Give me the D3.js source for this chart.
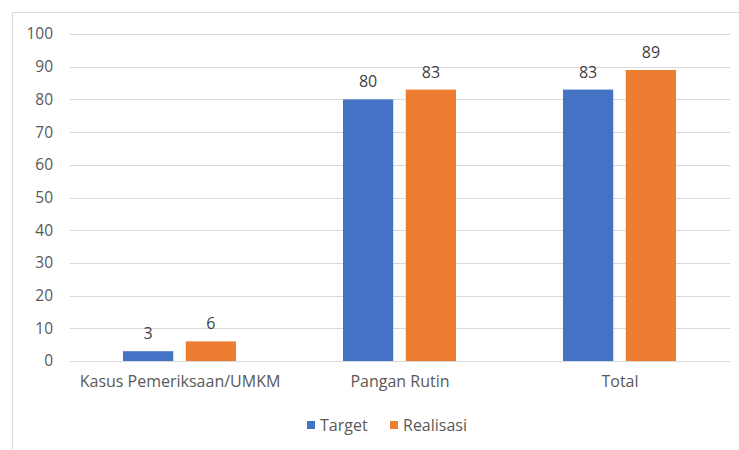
<!DOCTYPE html>
<html>
<head>
<meta charset="utf-8">
<script src="https://cdn.jsdelivr.net/npm/d3@7"></script>
<style>
  body { margin: 0; background: #fff; }
  svg text { font-family: "Open Sans", "Liberation Sans", sans-serif; }
</style>
</head>
<body>
<svg id="chart"></svg>
<script>
var width = 739;
var height = 450;

var categories = ["Kasus Pemeriksaan/UMKM", "Pangan Rutin", "Total"];
var seriesNames = ["Target", "Realisasi"];
var targetValues = [3, 80, 83];
var realisasiValues = [6, 83, 89];
var yTicks = [0, 10, 20, 30, 40, 50, 60, 70, 80, 90, 100];
var colors = ["#4472c4", "#ed7d31"];

var margin = { left: 70, right: 9, top: 34, bottom: 89 };

var svg = d3.select("#chart")
    .attr("width", width)
    .attr("height", height);

// outer chart border (top and left visible)
svg.append("path")
    .attr("d", "M12.5," + height + "V12.5H" + width)
    .attr("fill", "none")
    .attr("stroke", "#d9d9d9")
    .attr("stroke-width", 1);

var x = d3.scaleBand()
    .domain(categories)
    .range([margin.left, width - margin.right])
    .paddingInner(0)
    .paddingOuter(0);

var x1 = d3.scaleBand()
    .domain(seriesNames)
    .range([53, 166])
    .paddingInner(0.2);

var y = d3.scaleLinear()
    .domain([0, 100])
    .range([height - margin.bottom, margin.top]);

// gridlines
svg.append("g")
    .selectAll("line")
    .data(yTicks)
    .enter().append("line")
    .attr("x1", margin.left)
    .attr("x2", width - margin.right)
    .attr("y1", function (d) { return Math.round(y(d)) + 0.5; })
    .attr("y2", function (d) { return Math.round(y(d)) + 0.5; })
    .attr("stroke", "#d9d9d9")
    .attr("stroke-width", 1);

// y axis labels
var yAxis = svg.append("g")
    .attr("transform", "translate(" + (margin.left - 17) + ",0)")
    .call(d3.axisLeft(y).tickValues(yTicks).tickSize(0).tickPadding(0));
yAxis.select(".domain").remove();
yAxis.selectAll("text")
    .attr("fill", "#595959")
    .attr("font-size", "15.5px");

// x axis labels
var xAxis = svg.append("g")
    .attr("transform", "translate(0," + (height - margin.bottom) + ")")
    .call(d3.axisBottom(x).tickSize(0).tickPadding(15));
xAxis.select(".domain").remove();
xAxis.selectAll("text")
    .attr("fill", "#595959")
    .attr("font-size", "16px");

var rows = categories.map(function (c, i) {
    return { cat: c, values: [targetValues[i], realisasiValues[i]] };
});

var groups = svg.selectAll(".grp")
    .data(rows)
    .enter().append("g")
    .attr("class", "grp")
    .attr("transform", function (d) { return "translate(" + x(d.cat) + ",0)"; });

var bars = groups.selectAll(".bar")
    .data(function (d) {
        return d.values.map(function (v, j) { return { name: seriesNames[j], value: v, idx: j }; });
    })
    .enter();

bars.append("rect")
    .attr("class", "bar")
    .attr("x", function (d) { return x1(d.name); })
    .attr("y", function (d) { return y(d.value); })
    .attr("width", x1.bandwidth())
    .attr("height", function (d) { return y(0) - y(d.value); })
    .attr("fill", function (d) { return colors[d.idx]; });

bars.append("text")
    .attr("x", function (d) { return x1(d.name) + x1.bandwidth() / 2; })
    .attr("y", function (d) { return y(d.value) - 12; })
    .attr("text-anchor", "middle")
    .attr("fill", "#404040")
    .attr("font-size", "16px")
    .text(function (d) { return d.value; });

// legend
var legend = svg.append("g")
    .attr("transform", "translate(307,425)");
var legendX = [0, 83];
seriesNames.forEach(function (name, i) {
    legend.append("rect")
        .attr("x", legendX[i])
        .attr("y", -4)
        .attr("width", 8)
        .attr("height", 8)
        .attr("fill", colors[i]);
    legend.append("text")
        .attr("x", legendX[i] + 13)
        .attr("y", 0)
        .attr("dy", "0.35em")
        .attr("fill", "#595959")
        .attr("font-size", "16px")
        .text(name);
});
</script>
</body>
</html>
